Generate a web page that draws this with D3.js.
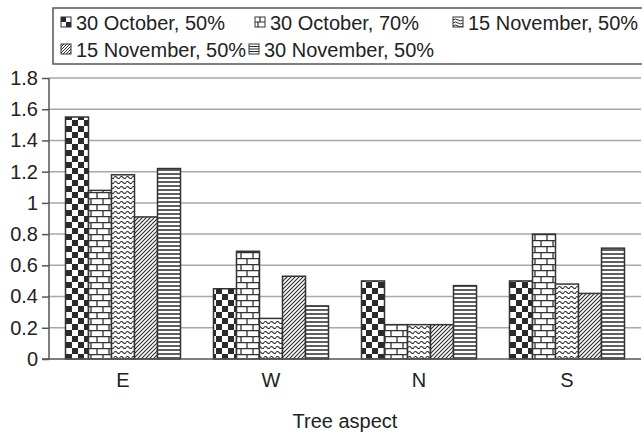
<!DOCTYPE html>
<html><head><meta charset="utf-8">
<script src="https://cdn.jsdelivr.net/npm/d3@7/dist/d3.min.js"></script>
<style>body{margin:0;background:#fff}svg{display:block;font-family:"Liberation Sans",Arial,sans-serif}svg text{font-family:"Liberation Sans",Arial,sans-serif !important;fill:#222}</style>
</head><body><svg id="c" width="642" height="432"></svg>
<script>
const categories = ["E", "W", "N", "S"];
const seriesNames = ["30 October, 50%", "30 October, 70%", "15 November, 50%", "15 November, 50%", "30 November, 50%"];
const s1 = [1.55, 0.45, 0.50, 0.50];
const s2 = [1.08, 0.69, 0.22, 0.80];
const s3 = [1.18, 0.26, 0.22, 0.48];
const s4 = [0.91, 0.53, 0.22, 0.42];
const s5 = [1.22, 0.34, 0.47, 0.71];
const yTicks = [0, 0.2, 0.4, 0.6, 0.8, 1, 1.2, 1.4, 1.6, 1.8];
const xTitle = "Tree aspect";

const seriesValues = [s1, s2, s3, s4, s5];
const svg = d3.select("#c");
const defs = svg.append("defs");
const ink = "#2a2a2a";
const FS = 20;

// bar patterns
function pat(id, w, h) {
  return defs.append("pattern").attr("id", id).attr("patternUnits", "userSpaceOnUse")
    .attr("width", w).attr("height", h);
}
let p = pat("p0", 12, 12);
p.append("rect").attr("width", 12).attr("height", 12).attr("fill", "#fff");
p.append("rect").attr("width", 6).attr("height", 6).attr("fill", ink);
p.append("rect").attr("x", 6).attr("y", 6).attr("width", 6).attr("height", 6).attr("fill", ink);

p = pat("p1", 12, 12);
p.append("rect").attr("width", 12).attr("height", 12).attr("fill", "#fff");
p.append("path").attr("d", "M0,0.6H12M0,6.6H12M1,0.6V6.6M7,6.6V12.6")
  .attr("stroke", "#333").attr("stroke-width", 1.3).attr("fill", "none");

p = pat("p2", 6, 5);
p.append("rect").attr("width", 6).attr("height", 5).attr("fill", "#fff");
p.append("path").attr("d", "M0,2.5 Q1.5,0.5 3,2.5 T6,2.5")
  .attr("stroke", ink).attr("stroke-width", 1.2).attr("fill", "none");

p = pat("p3", 4, 4);
p.append("rect").attr("width", 4).attr("height", 4).attr("fill", "#fff");
p.append("path").attr("d", "M-1,5L5,-1M-1,1L1,-1M3,5L5,3")
  .attr("stroke", ink).attr("stroke-width", 1.1).attr("fill", "none");

p = pat("p4", 4, 4);
p.append("rect").attr("width", 4).attr("height", 4).attr("fill", "#fff");
p.append("path").attr("d", "M0,2H4").attr("stroke", ink).attr("stroke-width", 1.5);

// legend icon patterns (bounding box, 10x10 content)
function ipat(id) {
  const q = defs.append("pattern").attr("id", id).attr("patternUnits", "objectBoundingBox")
    .attr("patternContentUnits", "userSpaceOnUse").attr("width", 1).attr("height", 1);
  q.append("rect").attr("width", 11).attr("height", 11).attr("fill", "#fff");
  return q;
}
p = ipat("i0");
p.append("rect").attr("width", 5).attr("height", 5).attr("fill", ink);
p.append("rect").attr("x", 5).attr("y", 5).attr("width", 5).attr("height", 5).attr("fill", ink);
p = ipat("i1");
p.append("path").attr("d", "M0,5H10M5,0V5M3,5V10").attr("stroke", ink).attr("stroke-width", 1.2).attr("fill", "none");
p = ipat("i2");
p.append("path").attr("d", "M0,3 Q2.5,1 5,3 T10,3M0,6 Q2.5,4 5,6 T10,6M0,9 Q2.5,7 5,9 T10,9").attr("stroke", ink).attr("stroke-width", 1).attr("fill", "none");
p = ipat("i3");
p.append("path").attr("d", "M0,3L3,0M0,6L6,0M0,9L9,0M2,10L10,2M5,10L10,5M8,10L10,8").attr("stroke", ink).attr("stroke-width", 1).attr("fill", "none");
p = ipat("i4");
p.append("path").attr("d", "M0,2.5H10M0,5H10M0,7.5H10").attr("stroke", ink).attr("stroke-width", 1.2).attr("fill", "none");

// scales
const x0 = d3.scaleBand().domain(categories).range([49, 641]);
const groupW = 115;
const x1 = d3.scaleBand().domain(d3.range(seriesNames.length)).range([0, groupW]);
const y = d3.scaleLinear().domain([0, 1.8]).range([359, 78]);

// gridlines
svg.append("g").selectAll("line").data(yTicks.filter(d => d > 0)).join("line")
  .attr("x1", 49).attr("x2", 641).attr("y1", d => y(d)).attr("y2", d => y(d))
  .attr("stroke", "#a8a8a8").attr("stroke-width", 1.5);

// bars
const gBars = svg.append("g");
categories.forEach((c, ci) => {
  const off = x0(c) + (x0.bandwidth() - groupW) / 2;
  seriesValues.forEach((vals, si) => {
    gBars.append("rect")
      .attr("x", off + x1(si)).attr("y", y(vals[ci]))
      .attr("width", x1.bandwidth()).attr("height", y(0) - y(vals[ci]))
      .attr("fill", `url(#p${si})`).attr("stroke", "#333").attr("stroke-width", 1.5);
  });
});

// y axis
const yAxis = d3.axisLeft(y).tickValues(yTicks).tickSize(7).tickPadding(4).tickFormat(d => d3.format("")(d));
const ga = svg.append("g").attr("transform", "translate(49,0)").call(yAxis);
ga.attr("font-family", null).attr("font-size", null);
ga.select(".domain").attr("stroke", "#555").attr("stroke-width", 1.5).attr("d", `M0,${y(1.8)}V${y(0)}`);
ga.selectAll(".tick line").attr("stroke", "#555").attr("stroke-width", 1.5);
ga.selectAll(".tick text").attr("font-size", FS).attr("fill", "#222");

// x axis
const xAxis = d3.axisBottom(x0).tickSize(0).tickPadding(14);
const gx = svg.append("g").attr("transform", `translate(0,${y(0)})`).call(xAxis);
gx.attr("font-family", null).attr("font-size", null);
gx.select(".domain").attr("stroke", "#555").attr("stroke-width", 1.5).attr("d", `M42,0H641`);
gx.selectAll(".tick text").attr("font-size", FS).attr("fill", "#222");

svg.append("text").attr("x", 345).attr("y", 428).attr("text-anchor", "middle").attr("font-size", FS).text(xTitle);

// legend
svg.append("rect").attr("x", 53).attr("y", 8).attr("width", 600).attr("height", 56)
  .attr("fill", "#fff").attr("stroke", "#555").attr("stroke-width", 1.5);
const legPos = [[61, 30], [255, 30], [453, 30], [61, 57], [249, 57]];
seriesNames.forEach((n, i) => {
  const [lx, ly] = legPos[i];
  svg.append("rect").attr("x", lx).attr("y", ly - 13).attr("width", 10).attr("height", 10)
    .attr("fill", `url(#i${i})`).attr("stroke", "#333").attr("stroke-width", 1);
  svg.append("text").attr("x", lx + 15).attr("y", ly).attr("font-size", FS).text(n);
});
</script></body></html>
